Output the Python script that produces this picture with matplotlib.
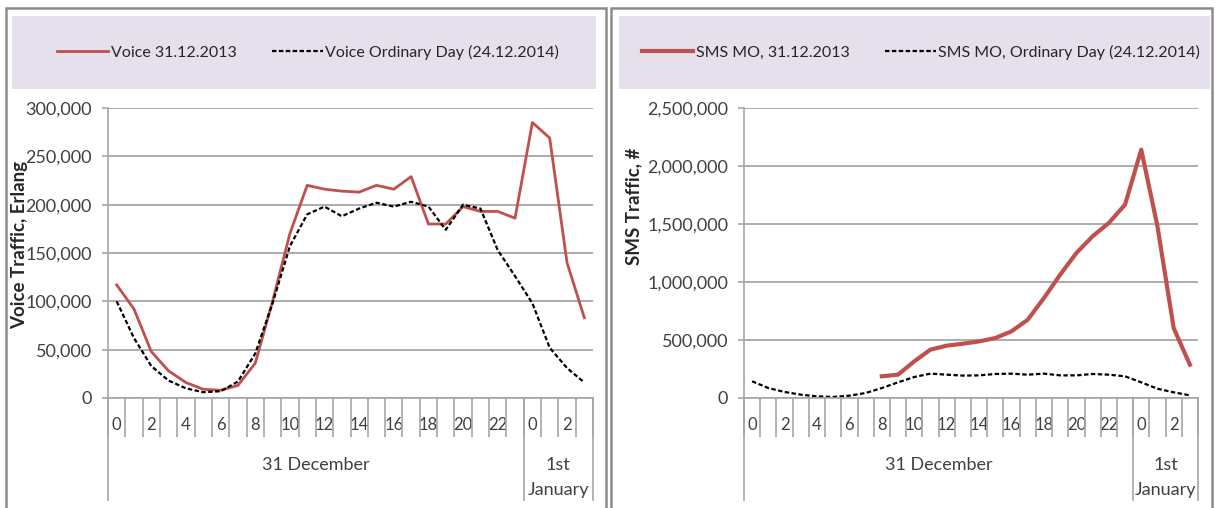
import numpy as np
import matplotlib
matplotlib.use('Agg')
import matplotlib.pyplot as plt
from matplotlib.patches import Rectangle
from matplotlib.ticker import FuncFormatter

plt.rcParams['font.family'] = ['Lato', 'DejaVu Sans']

# hours: 0..23 on 31 December, then 0..3 on 1 January
hours = list(range(24)) + list(range(4))

voice_nye = [117000, 92000, 48000, 28000, 16000, 9000, 8000, 13000, 36000, 100000,
             170000, 220000, 216000, 214000, 213000, 220000, 216000, 229000, 180000, 180000,
             198000, 193000, 193000, 186000, 285000, 269000, 140000, 83000]
voice_ordinary = [100000, 62000, 33000, 18000, 10000, 6000, 7000, 17000, 46000, 98000,
                  157000, 190000, 198000, 188000, 196000, 202000, 198000, 203000, 198000, 174000,
                  200000, 196000, 153000, 126000, 98000, 52000, 31000, 16000]

sms_nye = [np.nan] * 8 + [187000, 201000, 316000, 417000, 451000, 468000, 488000, 517000,
                          575000, 675000, 862000, 1063000, 1250000, 1394000, 1509000, 1667000,
                          2141000, 1480000, 603000, 287000]
sms_ordinary = [144000, 86000, 52000, 29000, 14000, 9000, 20000, 43000, 86000, 135000,
                181000, 210000, 201000, 193000, 195000, 207000, 210000, 201000, 210000, 195000,
                195000, 207000, 201000, 187000, 135000, 80000, 49000, 23000]

W, H = 1219, 508
fig = plt.figure(figsize=(W / 100, H / 100), dpi=100)

red = '#c0504d'
grid_c = '#a6a6a6'
text_c = '#404040'


def px_axes(x0, x1, y_top, y_bot):
    return fig.add_axes([x0 / W, 1 - y_bot / H, (x1 - x0) / W, (y_bot - y_top) / H])


def panel(x0, x1, band_x0, band_x1):
    fig.add_artist(Rectangle((x0 / W, -0.02), (x1 - x0) / W, 1.02 - 8 / H,
                             transform=fig.transFigure, fill=False,
                             ec='#8c8c8c', lw=1.8))
    fig.add_artist(Rectangle((band_x0 / W, 1 - 89 / H), (band_x1 - band_x0) / W, 73 / H,
                             transform=fig.transFigure, fc='#e5e0ec', ec='none'))


def style_axis(ax, ymax, ystep, ylabel, label_xy):
    n = len(hours)
    x = np.arange(n)
    ax.set_xlim(-0.5, n - 0.5)
    ax.set_ylim(0, ymax)
    ax.set_yticks(np.arange(0, ymax + 1, ystep))
    ax.yaxis.set_major_formatter(FuncFormatter(lambda v, p: f'{int(v):,}'))
    ax.grid(axis='y', color=grid_c, lw=1.3)
    ax.set_axisbelow(True)
    for s in ['top', 'right']:
        ax.spines[s].set_visible(False)
    for s in ['left', 'bottom']:
        ax.spines[s].set_color(grid_c)
        ax.spines[s].set_linewidth(1.2)
    ax.tick_params(axis='y', length=4.5, width=1.2, color=grid_c, pad=7,
                   labelsize=13, labelcolor=text_c)
    # hour labels at category centres, boundary ticks between categories
    ax.set_xticks(x)
    ax.set_xticklabels([str(h) if h % 2 == 0 else '' for h in hours])
    ax.tick_params(axis='x', which='major', length=0, pad=14, labelsize=12,
                   labelcolor=text_c)
    ax.set_xticks(np.arange(-0.5, n), minor=True)
    ax.tick_params(axis='x', which='minor', length=28, width=1.2, color=grid_c)
    tr = ax.get_xaxis_transform()
    for b in [-0.5, 23.5, n - 0.5]:
        ax.plot([b, b], [0, -0.352], transform=tr, color=grid_c, lw=1.2, clip_on=False)
    ax.text(11.5, -0.231, '31 December', transform=tr, ha='center', va='center',
            fontsize=13, color=text_c)
    ax.text(25.5, -0.231, '1st', transform=tr, ha='center', va='center',
            fontsize=13, color=text_c)
    ax.text(25.5, -0.317, 'January', transform=tr, ha='center', va='center',
            fontsize=13, color=text_c)
    ax.set_ylabel(ylabel, fontsize=13.5, fontweight='bold', color='#262626')
    ax.yaxis.set_label_coords(*label_xy)
    return x


# left panel: voice
panel(6, 606, 12, 596)
ax1 = px_axes(108, 593, 108, 398)
x = style_axis(ax1, 300000, 50000, 'Voice Traffic, Erlang', (-0.165, 0.528))
l1, = ax1.plot(x, voice_nye, color=red, lw=2, label='Voice 31.12.2013')
l2, = ax1.plot(x, voice_ordinary, color='black', lw=1.6, dashes=(2.0, 1.1),
               label='Voice Ordinary Day (24.12.2014)')
fig.legend(handles=[l1, l2], loc='center', bbox_to_anchor=(308 / W, 1 - 52.5 / H),
           ncol=2, frameon=False, fontsize=11.5, handlelength=3.2, handletextpad=0.15,
           columnspacing=2.2, labelcolor='#262626')

# right panel: SMS
panel(611, 1212, 619, 1210)
ax2 = px_axes(744, 1198, 108, 398)
x = style_axis(ax2, 2500000, 500000, 'SMS Traffic, #', (-0.225, 0.66))
r1, = ax2.plot(x, sms_nye, color=red, lw=3, label='SMS MO, 31.12.2013')
r2, = ax2.plot(x, sms_ordinary, color='black', lw=1.6, dashes=(2.0, 1.1),
               label='SMS MO, Ordinary Day (24.12.2014)')
fig.legend(handles=[r1, r2], loc='center', bbox_to_anchor=(921 / W, 1 - 52.5 / H),
           ncol=2, frameon=False, fontsize=11.5, handlelength=3.2, handletextpad=0.15,
           columnspacing=2.2, labelcolor='#262626')

fig.savefig('out.png', dpi=100)
